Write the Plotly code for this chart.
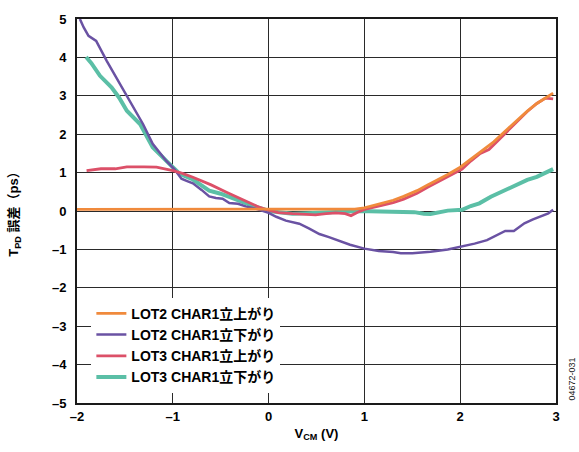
import plotly.graph_objects as go

# ---- data ----
lot2_rise_x = [-2.0, -1.5, -1.0, -0.5, 0.0, 0.5, 0.9, 1.0, 1.17, 1.3, 1.41, 1.55, 1.66, 1.8, 1.87, 2.0, 2.1, 2.21, 2.35, 2.5, 2.6, 2.7, 2.8, 2.9, 2.97]
lot2_rise_y = [0.04, 0.04, 0.04, 0.04, 0.04, 0.04, 0.05, 0.08, 0.19, 0.28, 0.38, 0.53, 0.68, 0.85, 0.95, 1.14, 1.33, 1.55, 1.8, 2.15, 2.38, 2.6, 2.8, 2.97, 3.07]

lot2_fall_x = [-1.97, -1.93, -1.88, -1.8, -1.69, -1.55, -1.41, -1.31, -1.21, -1.07, -0.98, -0.91, -0.85, -0.79, -0.7, -0.62, -0.55, -0.48, -0.41, -0.32, -0.24, -0.12, 0.0, 0.08, 0.18, 0.32, 0.42, 0.53, 0.63, 0.73, 0.85, 1.0, 1.15, 1.3, 1.38, 1.5, 1.6, 1.69, 1.87, 2.01, 2.15, 2.28, 2.4, 2.47, 2.56, 2.67, 2.76, 2.84, 2.92, 2.97]
lot2_fall_y = [5.0, 4.78, 4.56, 4.43, 3.91, 3.3, 2.7, 2.26, 1.75, 1.31, 1.08, 0.84, 0.78, 0.72, 0.55, 0.38, 0.34, 0.32, 0.21, 0.19, 0.12, 0.05, -0.05, -0.15, -0.25, -0.33, -0.45, -0.6, -0.68, -0.77, -0.88, -0.98, -1.04, -1.07, -1.1, -1.1, -1.08, -1.06, -1.0, -0.93, -0.85, -0.76, -0.62, -0.52, -0.52, -0.32, -0.22, -0.15, -0.06, 0.03]

lot3_rise_x = [-1.9, -1.75, -1.6, -1.48, -1.3, -1.17, -1.0, -0.9, -0.79, -0.6, -0.44, -0.3, -0.2, -0.1, 0.0, 0.1, 0.25, 0.4, 0.49, 0.6, 0.7, 0.8, 0.86, 0.93, 1.0, 1.17, 1.3, 1.41, 1.55, 1.66, 1.77, 1.87, 2.02, 2.11, 2.21, 2.3, 2.38, 2.46, 2.58, 2.7, 2.8, 2.89, 2.97]
lot3_rise_y = [1.05, 1.1, 1.1, 1.15, 1.15, 1.14, 1.05, 0.98, 0.88, 0.68, 0.49, 0.33, 0.2, 0.1, 0.02, -0.04, -0.07, -0.08, -0.1, -0.07, -0.05, -0.07, -0.12, -0.03, 0.04, 0.14, 0.22, 0.31, 0.46, 0.62, 0.76, 0.89, 1.09, 1.3, 1.5, 1.6, 1.8, 1.98, 2.3, 2.59, 2.8, 2.94, 2.92]

lot3_fall_x = [-1.905, -1.85, -1.76, -1.64, -1.56, -1.48, -1.34, -1.21, -1.07, -0.93, -0.79, -0.7, -0.62, -0.5, -0.37, -0.25, -0.17, 0.0, 0.1, 0.25, 0.4, 0.53, 0.7, 0.94, 1.17, 1.4, 1.52, 1.62, 1.69, 1.87, 2.02, 2.11, 2.2, 2.32, 2.42, 2.49, 2.56, 2.62, 2.7, 2.8, 2.9, 2.97]
lot3_fall_y = [4.01, 3.85, 3.52, 3.22, 2.95, 2.61, 2.26, 1.66, 1.31, 0.97, 0.82, 0.68, 0.53, 0.45, 0.32, 0.22, 0.14, 0.0, -0.03, -0.07, -0.06, -0.04, -0.02, 0.0, -0.01, -0.02, -0.03, -0.07, -0.08, 0.01, 0.03, 0.13, 0.2, 0.37, 0.48, 0.56, 0.63, 0.7, 0.81, 0.89, 1.0, 1.09]

names = ["LOT2 CHAR1立上がり", "LOT2 CHAR1立下がり", "LOT3 CHAR1立上がり", "LOT3 CHAR1立下がり"]
colors = ["#F08A3C", "#6A52A3", "#DC5068", "#5BBFA6"]

x_ticks = [-2, -1, 0, 1, 2, 3]
x_ticktext = ["–2", "–1", "0", "1", "2", "3"]
y_ticks = [-5, -4, -3, -2, -1, 0, 1, 2, 3, 4, 5]
y_ticktext = ["–5", "–4", "–3", "–2", "–1", "0", "1", "2", "3", "4", "5"]

FONT = "Liberation Sans, Arial, Noto Sans CJK JP, sans-serif"

fig = go.Figure()
series = [
    (lot3_fall_x, lot3_fall_y, 3, 4.0, 4),
    (lot2_fall_x, lot2_fall_y, 1, 2.5, 2),
    (lot3_rise_x, lot3_rise_y, 2, 2.8, 3),
    (lot2_rise_x, lot2_rise_y, 0, 2.8, 1),
]
for xs, ys, idx, w, rank in series:
    fig.add_trace(go.Scatter(
        x=xs, y=ys, mode="lines", name=names[idx],
        line=dict(color=colors[idx], width=w),
        legendrank=rank,
    ))

fig.update_layout(
    width=579, height=452,
    margin=dict(l=77, r=23, t=19, b=49),
    paper_bgcolor="white", plot_bgcolor="white",
    font=dict(family=FONT, size=13, color="black"),
    showlegend=True,
    legend=dict(
        x=0.03, y=0.274, xanchor="left", yanchor="top",
        bgcolor="white", borderwidth=0,
        font=dict(family=FONT, size=14, color="black", weight="bold"),
        tracegroupgap=0, itemwidth=30,
    ),
    xaxis=dict(
        range=[-2, 3], tickvals=x_ticks, ticktext=x_ticktext,
        showgrid=True, gridcolor="#2a2a2a", gridwidth=1.3,
        zeroline=False, showline=True, linecolor="#1a1a1a", linewidth=2, mirror=True,
        ticks="", tickfont=dict(size=13, weight="bold"),
        title=dict(text="<b>V<sub>CM</sub> (V)</b>", font=dict(size=13), standoff=6),
    ),
    yaxis=dict(
        range=[-5, 5], tickvals=y_ticks, ticktext=y_ticktext,
        showgrid=True, gridcolor="#2a2a2a", gridwidth=1.3,
        zeroline=False, showline=True, linecolor="#1a1a1a", linewidth=2, mirror=True,
        ticks="", ticklabelstandoff=6, tickfont=dict(size=13, weight="bold"),
        title=dict(text="<b>T<sub>PD</sub> 誤差（ps）</b>", font=dict(size=13), standoff=30),
    ),
    annotations=[dict(
        text="04672-031", x=1.0, y=0.0, xref="paper", yref="paper",
        xanchor="left", yanchor="bottom", xshift=8, showarrow=False,
        textangle=-90, font=dict(size=9, color="#222"),
    )],
)

fig.write_html("out.html")
